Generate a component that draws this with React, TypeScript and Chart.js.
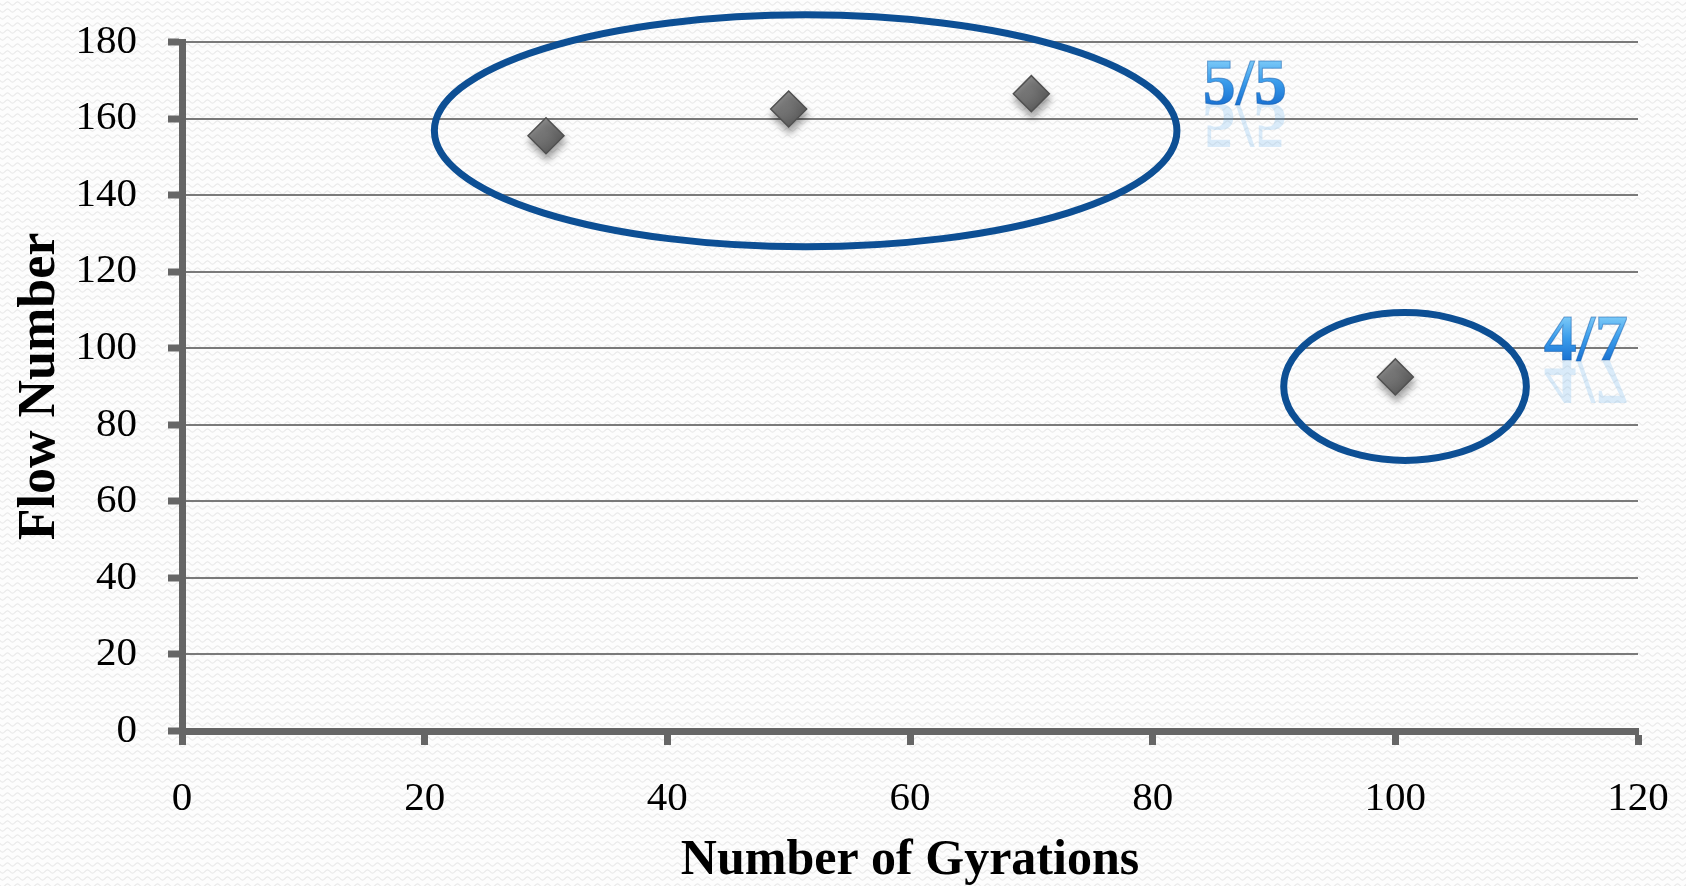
import React, { useEffect, useRef } from "react";
import { Chart, registerables } from "chart.js";

Chart.register(...registerables);

// ---- data ----
const gyrations = [30, 50, 70, 100];
const flowNumbers = [155.5, 162.5, 166.5, 92.5];

const xTickValues = [0, 20, 40, 60, 80, 100, 120];
const yTickValues = [0, 20, 40, 60, 80, 100, 120, 140, 160, 180];

const xTitle = "Number of Gyrations";
const yTitle = "Flow Number";

// group annotations (data units)
const groupLabels = ["5/5", "4/7"];
const groupLabelX = [87.6, 115.7];
const groupLabelY = [163.8, 96.8];
const ellipseCx = [51.4, 100.8];
const ellipseCy = [156.8, 90.0];
const ellipseRx = [30.6, 10.0];
const ellipseRy = [30.3, 19.3];

const W = 1686;
const H = 886;
const POINT_R = 18;

const backgroundPlugin = {
  id: "bgPattern",
  beforeDraw(chart: any) {
    const ctx = chart.ctx as CanvasRenderingContext2D;
    const tile = document.createElement("canvas");
    tile.width = 10;
    tile.height = 7;
    const t = tile.getContext("2d")!;
    t.fillStyle = "#fdfdfd";
    t.fillRect(0, 0, 10, 7);
    t.strokeStyle = "#e9e9e9";
    t.lineWidth = 1.1;
    t.beginPath();
    for (let i = 0; i <= 10; i += 0.5) {
      const yy = 3.5 + 1.6 * Math.sin((2 * Math.PI * i) / 10);
      if (i === 0) t.moveTo(i, yy);
      else t.lineTo(i, yy);
    }
    t.stroke();
    const pat = ctx.createPattern(tile, "repeat");
    ctx.save();
    ctx.fillStyle = pat || "#fdfdfd";
    ctx.fillRect(0, 0, chart.width, chart.height);
    ctx.restore();
  },
};

const shadowPlugin = {
  id: "pointShadow",
  beforeDatasetsDraw(chart: any) {
    const ctx = chart.ctx as CanvasRenderingContext2D;
    ctx.save();
    ctx.shadowColor = "rgba(0,0,0,0.35)";
    ctx.shadowBlur = 7;
    ctx.shadowOffsetX = 1;
    ctx.shadowOffsetY = 6;
  },
  afterDatasetsDraw(chart: any) {
    chart.ctx.restore();
  },
};

const annotationPlugin = {
  id: "groupAnnotations",
  afterDatasetsDraw(chart: any) {
    const ctx = chart.ctx as CanvasRenderingContext2D;
    const xs = chart.scales.x;
    const ys = chart.scales.y;
    ctx.save();
    // ellipses
    ctx.strokeStyle = "#0d4f94";
    ctx.lineWidth = 7;
    for (let i = 0; i < ellipseCx.length; i++) {
      const cx = xs.getPixelForValue(ellipseCx[i]);
      const cy = ys.getPixelForValue(ellipseCy[i]);
      const rx = Math.abs(xs.getPixelForValue(ellipseCx[i] + ellipseRx[i]) - cx);
      const ry = Math.abs(ys.getPixelForValue(ellipseCy[i] + ellipseRy[i]) - cy);
      ctx.beginPath();
      ctx.ellipse(cx, cy, rx, ry, 0, 0, Math.PI * 2);
      ctx.stroke();
    }
    // labels
    ctx.font = "bold 66px 'Liberation Serif'";
    ctx.textAlign = "center";
    ctx.textBaseline = "alphabetic";
    for (let i = 0; i < groupLabels.length; i++) {
      const px = xs.getPixelForValue(groupLabelX[i]);
      const py = ys.getPixelForValue(groupLabelY[i]);
      // faint reflection
      ctx.save();
      ctx.translate(px, py);
      ctx.scale(1, -1);
      const rg = ctx.createLinearGradient(0, 0, 0, 18);
      rg.addColorStop(0, "rgba(90,170,235,0.22)");
      rg.addColorStop(1, "rgba(90,170,235,0)");
      ctx.fillStyle = rg;
      ctx.beginPath();
      ctx.rect(-60, -60, 120, 60);
      ctx.clip();
      ctx.fillText(groupLabels[i], 0, 0);
      ctx.restore();
      // main text
      const g = ctx.createLinearGradient(0, py - 44, 0, py);
      g.addColorStop(0, "#7ccaf8");
      g.addColorStop(0.5, "#3a9ceb");
      g.addColorStop(1, "#1a72d2");
      ctx.fillStyle = g;
      ctx.fillText(groupLabels[i], px, py);
      ctx.lineWidth = 1;
      ctx.strokeStyle = "rgba(20,90,170,0.5)";
      ctx.strokeText(groupLabels[i], px, py);
    }
    ctx.restore();
  },
};

function pointFill(context: any) {
  const chart = context.chart;
  const xs = chart.scales && chart.scales.x;
  const ys = chart.scales && chart.scales.y;
  const p = context.parsed;
  if (!xs || !ys || !p || !chart.chartArea) return "#757575";
  const px = xs.getPixelForValue(p.x);
  const py = ys.getPixelForValue(p.y);
  if (!isFinite(px) || !isFinite(py)) return "#757575";
  const g = chart.ctx.createLinearGradient(px - POINT_R, py - POINT_R, px + POINT_R * 0.6, py + POINT_R);
  g.addColorStop(0, "#a0a0a0");
  g.addColorStop(0.5, "#767676");
  g.addColorStop(1, "#555555");
  return g;
}

export default function App() {
  const canvasRef = useRef<HTMLCanvasElement | null>(null);

  useEffect(() => {
    const canvas = canvasRef.current;
    if (!canvas) return;
    const chart = new Chart(canvas, {
      type: "scatter",
      data: {
        datasets: [
          {
            label: "Flow Number",
            data: gyrations.map((g, i) => ({ x: g, y: flowNumbers[i] })),
            pointStyle: "rectRot",
            pointRadius: POINT_R,
            pointHoverRadius: POINT_R,
            backgroundColor: pointFill,
            borderColor: "#505050",
            borderWidth: 1.5,
            showLine: false,
          },
        ],
      },
      options: {
        responsive: false,
        animation: false,
        devicePixelRatio: 1,
        events: [],
        layout: { padding: { left: 0, top: 42, right: 48, bottom: 0 } },
        plugins: {
          legend: { display: false },
          tooltip: { enabled: false },
          title: { display: false },
        },
        scales: {
          x: {
            type: "linear",
            min: 0,
            max: 120,
            afterBuildTicks: (s: any) => {
              s.ticks = xTickValues.map((v) => ({ value: v }));
            },
            afterFit: (s: any) => {
              s.height = H - 731;
              s.paddingLeft = 0;
              s.paddingRight = 0;
            },
            border: { display: true, width: 7, color: "#666666" },
            grid: {
              drawOnChartArea: false,
              drawTicks: true,
              tickLength: 14,
              tickWidth: 7,
              tickColor: "#666666",
            },
            ticks: {
              color: "#000000",
              padding: 30,
              font: { family: "'Liberation Serif'", size: 41 },
              maxRotation: 0,
            },
            title: {
              display: true,
              text: xTitle,
              color: "#000000",
              font: { family: "'Liberation Serif'", size: 50, weight: "bold", lineHeight: 1 },
              padding: { top: 0, bottom: 0 },
            },
          },
          y: {
            type: "linear",
            min: 0,
            max: 180,
            afterBuildTicks: (s: any) => {
              s.ticks = yTickValues.map((v) => ({ value: v }));
            },
            afterFit: (s: any) => {
              s.width = 182;
              s.paddingTop = 0;
              s.paddingBottom = 0;
            },
            border: { display: true, width: 7, color: "#666666" },
            grid: {
              drawOnChartArea: true,
              color: "#7a7a7a",
              lineWidth: 2,
              drawTicks: true,
              tickLength: 14,
              tickWidth: 7,
              tickColor: "#666666",
            },
            ticks: {
              color: "#000000",
              padding: 31,
              font: { family: "'Liberation Serif'", size: 41 },
            },
            title: {
              display: true,
              text: yTitle,
              color: "#000000",
              font: { family: "'Liberation Serif'", size: 52, weight: "bold", lineHeight: 1 },
              padding: { top: 15, bottom: 0 },
            },
          },
        },
      },
      plugins: [backgroundPlugin, shadowPlugin, annotationPlugin],
    } as any);
    return () => chart.destroy();
  }, []);

  return (
    <div style={{ position: "absolute", left: 0, top: 0, width: W, height: H }}>
      <canvas ref={canvasRef} width={W} height={H} style={{ display: "block", width: W, height: H }} />
    </div>
  );
}
